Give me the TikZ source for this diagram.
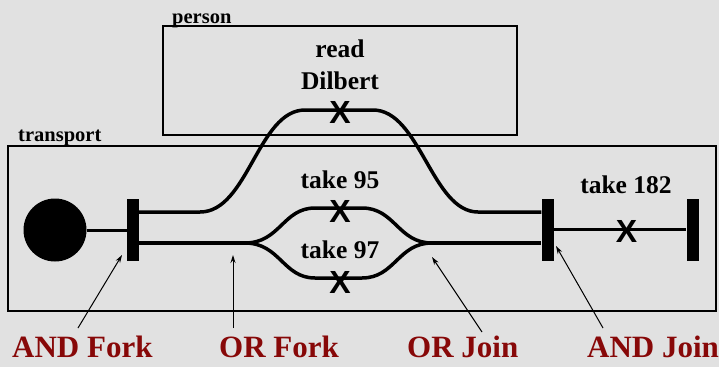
\documentclass[tikz,border=0pt]{standalone}
\usepackage{fontspec}
\setmainfont{Liberation Serif}
\setsansfont{Liberation Sans}
\usetikzlibrary{arrows.meta}
\definecolor{bg}{RGB}{225,225,225}
\definecolor{lbl}{RGB}{135,8,8}
\begin{document}
\begin{tikzpicture}[x=1pt,y=-1pt,
 flow/.style={line width=3.5pt},
 thinflow/.style={line width=3pt},
 box/.style={draw, line width=1.2pt, inner sep=0},
 bar/.style={fill=black, minimum width=12pt, minimum height=62pt, inner sep=0},
 xmark/.style={font=\sffamily\bfseries\fontsize{32}{32}\selectfont, inner sep=0},
 act/.style={font=\bfseries\fontsize{25.5}{30}\selectfont, anchor=base, inner sep=0},
 swim/.style={font=\bfseries\fontsize{20.5}{22}\selectfont, anchor=base west, inner sep=0},
 callout/.style={font=\bfseries\fontsize{31}{31}\selectfont, text=lbl, anchor=base west, inner sep=0},
 pointer/.style={line width=1pt, -{Stealth[length=8pt,width=5pt]}}
]
\fill[bg] (0,0) rectangle (719,367);
\useasboundingbox (0,0) rectangle (719,367);

% swimlanes
\node[box, minimum width=354pt, minimum height=109pt] (person) at (340,80.5) {};
\node[box, minimum width=708pt, minimum height=165pt] (transport) at (362,228.5) {};
\node[swim] (personlbl) at (172,23) {person};
\node[swim] (transportlbl) at (18,141) {transport};

% nodes
\node[circle, fill=black, minimum size=63pt, inner sep=0] (start) at (55,230) {};
\node[bar] (fork) at (133,230) {};
\node[bar] (join) at (547.5,229.5) {};
\node[bar] (end) at (692.5,229.5) {};

% flows
\draw[thinflow] (start) -- (fork);
\draw[flow] (fork.east |- 0,212) -- (200,212)
  .. controls (248,212) and (258,110) .. (305,110) -- (373,110)
  .. controls (420,110) and (432,212) .. (478,212) -- (join.west |- 0,212);
\draw[flow] (fork.east |- 0,243) -- (245,243);
\draw[flow] (245,243) .. controls (280,243) and (283,208) .. (315,208) -- (362,208)
  .. controls (395,208) and (398,243) .. (432,243);
\draw[flow] (245,243) .. controls (280,243) and (283,278) .. (315,278) -- (362,278)
  .. controls (395,278) and (398,243) .. (432,243);
\draw[flow] (432,243) -- (join.west |- 0,243);
\draw[thinflow] (join) -- (end);

% activity marks
\node[xmark] (x1) at (340,112.5) {X};
\node[xmark] (x2) at (340,211.5) {X};
\node[xmark] (x3) at (340,282.5) {X};
\node[xmark] (x4) at (626.5,231.5) {X};

% activity labels
\node[act] (read) at (340,57) {read};
\node[act] (dilbert) at (340,89) {Dilbert};
\node[act] (t95) at (340,188) {take 95};
\node[act] (t97) at (340,258) {take 97};
\node[act] (t182) at (626,193) {take 182};

% callouts
\node[callout] (andfork) at (12,357) {AND Fork};
\node[callout] (orfork) at (219,357) {OR Fork};
\node[callout] (orjoin) at (407,357) {OR Join};
\node[callout] (andjoin) at (587,357) {AND Join};

\coordinate (a1) at (78,328);   \coordinate (b1) at (122,255);
\coordinate (a2) at (233,328);  \coordinate (b2) at (233,255);
\coordinate (a3) at (482,332);  \coordinate (b3) at (432,257);
\coordinate (a4) at (603,328);  \coordinate (b4) at (556,246);
\draw[pointer] (a1) -- (b1);
\draw[pointer] (a2) -- (b2);
\draw[pointer] (a3) -- (b3);
\draw[pointer] (a4) -- (b4);
\end{tikzpicture}
\end{document}
